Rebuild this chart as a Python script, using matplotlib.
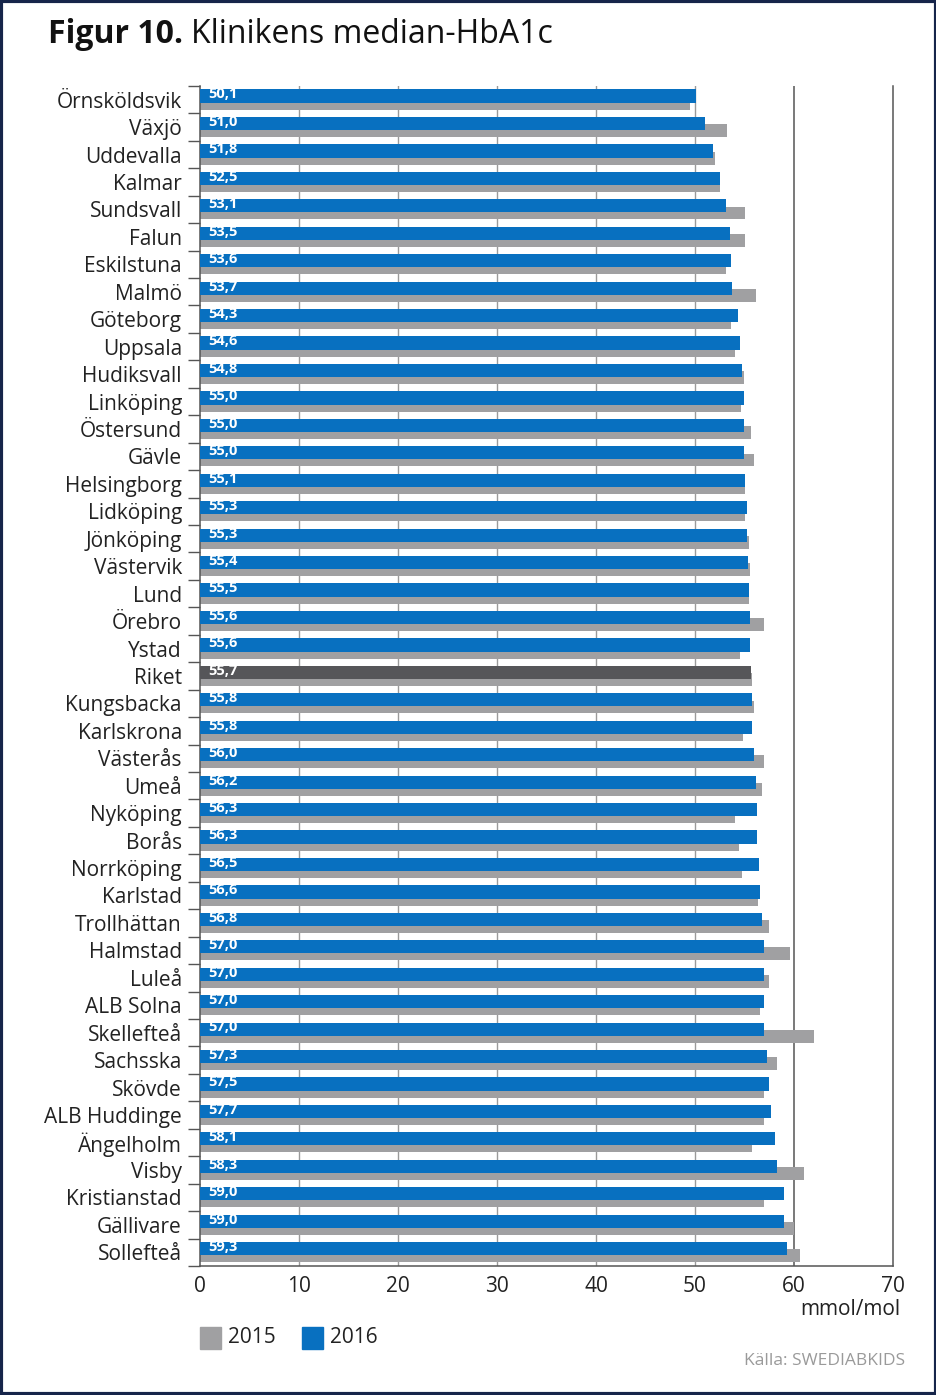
import numpy as np
import matplotlib.pyplot as plt
from matplotlib.patches import Rectangle

plt.rcParams['font.family'] = ['Open Sans', 'DejaVu Sans']

kliniker = ['Örnsköldsvik', 'Växjö', 'Uddevalla', 'Kalmar', 'Sundsvall', 'Falun',
            'Eskilstuna', 'Malmö', 'Göteborg', 'Uppsala', 'Hudiksvall', 'Linköping',
            'Östersund', 'Gävle', 'Helsingborg', 'Lidköping', 'Jönköping', 'Västervik',
            'Lund', 'Örebro', 'Ystad', 'Riket', 'Kungsbacka', 'Karlskrona', 'Västerås',
            'Umeå', 'Nyköping', 'Borås', 'Norrköping', 'Karlstad', 'Trollhättan',
            'Halmstad', 'Luleå', 'ALB Solna', 'Skellefteå', 'Sachsska', 'Skövde',
            'ALB Huddinge', 'Ängelholm', 'Visby', 'Kristianstad', 'Gällivare', 'Sollefteå']

hba1c_2016 = [50.1, 51.0, 51.8, 52.5, 53.1, 53.5, 53.6, 53.7, 54.3, 54.6, 54.8, 55.0,
              55.0, 55.0, 55.1, 55.3, 55.3, 55.4, 55.5, 55.6, 55.6, 55.7, 55.8, 55.8,
              56.0, 56.2, 56.3, 56.3, 56.5, 56.6, 56.8, 57.0, 57.0, 57.0, 57.0, 57.3,
              57.5, 57.7, 58.1, 58.3, 59.0, 59.0, 59.3]

hba1c_2015 = [49.5, 53.2, 52.0, 52.5, 55.1, 55.1, 53.1, 56.2, 53.6, 54.0, 55.0, 54.7,
              55.7, 56.0, 55.1, 55.1, 55.5, 55.6, 55.5, 57.0, 54.5, 55.8, 56.0, 54.9,
              57.0, 56.8, 54.0, 54.4, 54.8, 56.4, 57.5, 59.6, 57.5, 56.6, 62.0, 58.3,
              57.0, 57.0, 55.8, 61.0, 57.0, 60.0, 60.6]

xticks = [0, 10, 20, 30, 40, 50, 60, 70]

blue = '#0870c0'
grey = '#a0a0a2'
riket = '#565659'
txt = '#222222'

fig = plt.figure(figsize=(9.37, 13.95), dpi=100)
ax = fig.add_axes([0.2134, 0.0925, 0.7396, 0.8459])

y = np.arange(len(kliniker))
farg = [riket if k == 'Riket' else blue for k in kliniker]

ax.barh(y + 0.13, hba1c_2015, height=0.47, color=grey, zorder=2)
ax.barh(y - 0.13, hba1c_2016, height=0.48, color=farg, zorder=3)

# värdeetiketter inne i staplarna
for yi, v in zip(y, hba1c_2016):
    ax.text(0.85, yi - 0.19, f'{v:.1f}'.replace('.', ','), color='white',
            fontsize=10.5, fontweight='bold', va='center', ha='left', zorder=4)

for x in xticks[1:-1]:
    ax.axvline(x, color='#555555' if x == 60 else '#9a9a9a',
               lw=1.1 if x == 60 else 1.0, zorder=1)

ax.set_xlim(0, 70)
ax.set_ylim(len(kliniker) - 0.5, -0.5)
ax.set_xticks(xticks)
ax.set_yticks(y)
ax.set_yticklabels(kliniker, fontsize=15, color=txt)
ax.set_yticks(np.arange(len(kliniker) + 1) - 0.5, minor=True)
ax.tick_params(axis='y', which='major', length=0, pad=13)
ax.tick_params(axis='y', which='minor', length=9, width=1, color='#555555')
ax.tick_params(axis='x', length=0, labelsize=15, labelcolor=txt, pad=7)
ax.spines['top'].set_visible(False)
for s in ['left', 'right', 'bottom']:
    ax.spines[s].set_color('#555555')
    ax.spines[s].set_linewidth(1.1)

fig.text(0.961, 0.061, 'mmol/mol', ha='right', va='center', fontsize=15, color=txt)

t1 = fig.text(0.051, 0.975, 'Figur 10.', fontsize=23, fontweight='bold',
              va='center', color='#111111')
ax.annotate('Klinikens median-HbA1c', xy=(1, 0.5), xycoords=t1, xytext=(6, 0),
            textcoords='offset points', fontsize=23, va='center', color='#111111',
            annotation_clip=False)

fig.patches.append(Rectangle((0.2134, 0.0333), 0.0225, 0.0155, transform=fig.transFigure,
                             color=grey, figure=fig))
fig.text(0.243, 0.041, '2015', fontsize=15, va='center', color=txt)
fig.patches.append(Rectangle((0.3225, 0.0333), 0.0225, 0.0155, transform=fig.transFigure,
                             color=blue, figure=fig))
fig.text(0.352, 0.041, '2016', fontsize=15, va='center', color=txt)

fig.text(0.966, 0.0245, 'Källa: SWEDIABKIDS', ha='right', va='center', fontsize=12.5,
         color='#9a9a9a')

fig.patches.append(Rectangle((0.0015, 0.001), 0.997, 0.998, transform=fig.transFigure,
                             fill=False, edgecolor='#16254a', lw=3, figure=fig))

fig.savefig('out.png', dpi=100)
